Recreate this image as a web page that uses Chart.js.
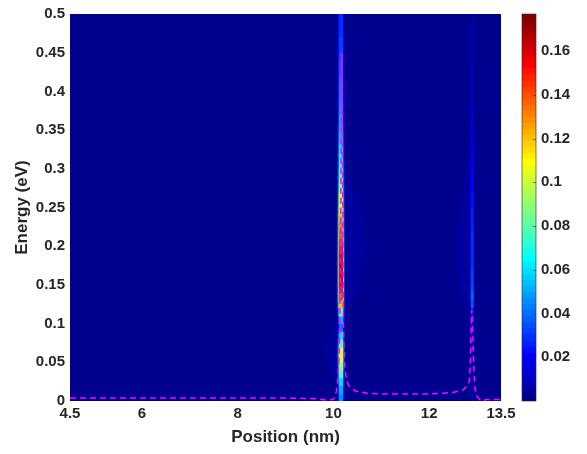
<!DOCTYPE html>
<html>
<head>
<meta charset="utf-8">
<script src="https://cdn.jsdelivr.net/npm/chart.js@4.4.1/dist/chart.umd.min.js"></script>
<style>
  body { margin: 0; background: #fff; }
  #wrap { position: relative; width: 587px; height: 454px; }
  #wrap canvas { position: absolute; left: 0; top: 0; }
</style>
</head>
<body>
<div id="wrap">
  <canvas id="map" width="587" height="454"></canvas>
  <canvas id="bar" width="587" height="454"></canvas>
</div>
<script>
/***** Data *****/
// Energy bins (eV), bin centres of the map rows
const energyBins = [
  0.005, 0.015, 0.025, 0.035, 0.045, 0.055, 0.065, 0.075, 0.085, 0.095,
  0.105, 0.115, 0.125, 0.135, 0.145, 0.155, 0.165, 0.175, 0.185, 0.195,
  0.205, 0.215, 0.225, 0.235, 0.245, 0.255, 0.265, 0.275, 0.285, 0.295,
  0.305, 0.315, 0.325, 0.335, 0.345, 0.355, 0.365, 0.375, 0.385, 0.395,
  0.405, 0.415, 0.425, 0.435, 0.445, 0.455, 0.465, 0.475, 0.485, 0.495,
];

// Bright state near 10.16 nm: centre column and its two side columns
const line1Core = [
  0.045, 0.05, 0.06, 0.075, 0.09, 0.105, 0.1, 0.08, 0.06, 0.04,
  0.055, 0.085, 0.12, 0.14, 0.152, 0.158, 0.155, 0.158, 0.155, 0.15,
  0.142, 0.136, 0.13, 0.124, 0.115, 0.105, 0.1, 0.09, 0.082, 0.076,
  0.07, 0.066, 0.062, 0.058, 0.055, 0.052, 0.05, 0.048, 0.046, 0.044,
  0.042, 0.04, 0.038, 0.036, 0.034, 0.032, 0.031, 0.03, 0.029, 0.028,
];
const line1Edge = [
  0.02, 0.022, 0.027, 0.034, 0.04, 0.047, 0.045, 0.036, 0.027, 0.018,
  0.025, 0.038, 0.054, 0.063, 0.068, 0.07, 0.068, 0.07, 0.068, 0.065,
  0.063, 0.061, 0.058, 0.056, 0.052, 0.047, 0.045, 0.04, 0.037, 0.034,
  0.032, 0.03, 0.028, 0.026, 0.025, 0.023, 0.022, 0.022, 0.021, 0.02,
  0.019, 0.018, 0.017, 0.016, 0.015, 0.014, 0.014, 0.013, 0.013, 0.012,
];

// Weaker state near 12.9 nm
const line2Core = [
  0.006, 0.006, 0.007, 0.007, 0.008, 0.008, 0.009, 0.01, 0.011, 0.012,
  0.014, 0.018, 0.034, 0.036, 0.034, 0.032, 0.031, 0.03, 0.03, 0.029,
  0.028, 0.028, 0.027, 0.026, 0.025, 0.024, 0.023, 0.022, 0.021, 0.02,
  0.019, 0.018, 0.017, 0.016, 0.015, 0.014, 0.013, 0.012, 0.011, 0.011,
  0.01, 0.009, 0.009, 0.008, 0.008, 0.007, 0.007, 0.006, 0.006, 0.005,
];

// Column extents (nm)
const line1CoreSpan = [10.12, 10.195];
const line1LeftSpan = [10.095, 10.12];
const line1RightSpan = [10.195, 10.22];
const line2CoreSpan = [12.875, 12.925];

// Faint halos around the states
const halo1RightBins = [
  0.105, 0.115, 0.125, 0.135, 0.145, 0.155, 0.165, 0.175, 0.185, 0.195,
  0.205, 0.215, 0.225, 0.235, 0.245, 0.255, 0.265, 0.275, 0.285, 0.295,
];
const halo1RightTo = [
  10.26, 10.32, 10.38, 10.43, 10.48, 10.52, 10.56, 10.59, 10.62, 10.64,
  10.65, 10.64, 10.62, 10.59, 10.55, 10.5, 10.44, 10.38, 10.31, 10.24,
];
const halo1LeftBins = [0.025, 0.035, 0.045, 0.055, 0.065, 0.075, 0.085, 0.095];
const halo1LeftFrom = [10.08, 10.0, 9.92, 9.86, 9.84, 9.87, 9.95, 10.06];
const halo2Bins = [
  0.125, 0.135, 0.145, 0.155, 0.165, 0.175, 0.185, 0.195, 0.205, 0.215, 0.225,
  0.235, 0.245, 0.255, 0.265, 0.275, 0.285, 0.295, 0.305, 0.315, 0.325, 0.335,
];
const halo2From = [
  12.8, 12.72, 12.66, 12.62, 12.59, 12.57, 12.56, 12.56, 12.57, 12.58, 12.6,
  12.62, 12.64, 12.67, 12.7, 12.72, 12.75, 12.78, 12.8, 12.82, 12.84, 12.86,
];
const haloLevel = 0.0045;
const baseLevel = 0.002;

// Dashed magenta profile
const profileX = [
  4.5, 6, 8, 9, 9.6, 9.9, 10.0, 10.06, 10.085, 10.115, 10.135, 10.15, 10.165, 10.175,
  10.19, 10.2, 10.21, 10.23, 10.27, 10.32, 10.45, 10.7, 11, 12, 12.5, 12.7, 12.8,
  12.84, 12.86, 12.875, 12.89, 12.91, 12.93, 12.95, 12.99, 13.08, 13.2, 13.5,
];
const profileY = [
  0.004, 0.004, 0.004, 0.004, 0.003, 0.001, 0.002, 0.012, 0.02, 0.05, 0.1, 0.2, 0.35, 0.45,
  0.35, 0.2, 0.1, 0.05, 0.028, 0.02, 0.013, 0.01, 0.009, 0.009, 0.011, 0.014, 0.02,
  0.026, 0.05, 0.09, 0.118, 0.09, 0.05, 0.02, 0.007, 0.0, 0.002, 0.002,
];

// Axes and colour scale
const xTicks = [4.5, 6, 8, 10, 12, 13.5];
const yTicks = [0, 0.05, 0.1, 0.15, 0.2, 0.25, 0.3, 0.35, 0.4, 0.45, 0.5];
const colorTicks = [0.02, 0.04, 0.06, 0.08, 0.1, 0.12, 0.14, 0.16];
const colorMax = 0.177;

/***** Helpers *****/
const FONT = "'Liberation Sans', Arial, Helvetica, sans-serif";
const INK = "#262626";

// MATLAB jet(64)
const jetRGB = (k) => {
  const c = (v) => Math.round(255 * Math.min(Math.max(v, 0), 1));
  return [
    c(Math.min((k - 23) / 16, (71 - k) / 16)),
    c(Math.min((k - 7) / 16, (55 - k) / 16)),
    c(Math.min((k + 9) / 16, (39 - k) / 16)),
  ];
};
const jet = (v) => {
  const k = Math.min(Math.max(Math.floor((v / colorMax) * 64), 0), 63);
  const [r, g, b] = jetRGB(k);
  return `rgb(${r},${g},${b})`;
};

const fmt = (v) => String(+v.toFixed(3));

// Builds a horizontal floating-bar dataset of heat cells
const cells = (bins, from, to, heat, order) => ({
  type: "bar",
  indexAxis: "y",
  grouped: false,
  order: order,
  barPercentage: 1,
  categoryPercentage: 1,
  borderWidth: 0,
  heat: heat,
  data: bins.map((e, i) => ({
    y: e,
    x: [Array.isArray(from) ? from[i] : from, Array.isArray(to) ? to[i] : to],
  })),
  backgroundColor: (ctx) => jet(ctx.dataset.heat[ctx.dataIndex]),
});

const fill = (arr, v) => arr.map(() => v);

/***** Main map *****/
const areaFill = {
  id: "areaFill",
  beforeDatasetsDraw(chart) {
    const { ctx, chartArea: a } = chart;
    ctx.save();
    ctx.fillStyle = jet(baseLevel);
    ctx.fillRect(a.left, a.top, a.width, a.height);
    ctx.restore();
  },
};

new Chart(document.querySelector("#map"), {
  data: {
    datasets: [
      {
        type: "line",
        order: 0,
        data: profileX.map((x, i) => ({ x: x, y: profileY[i] })),
        borderColor: "#ff00ff",
        borderWidth: 1.5,
        borderDash: [6, 4],
        pointRadius: 0,
        fill: false,
      },
      cells(energyBins, line1CoreSpan[0], line1CoreSpan[1], line1Core, 1),
      cells(energyBins, line1LeftSpan[0], line1LeftSpan[1], line1Edge, 2),
      cells(energyBins, line1RightSpan[0], line1RightSpan[1], line1Edge, 2),
      cells(energyBins, line2CoreSpan[0], line2CoreSpan[1], line2Core, 1),
      cells(halo1RightBins, 10.22, halo1RightTo, fill(halo1RightBins, haloLevel), 3),
      cells(halo1LeftBins, halo1LeftFrom, 10.095, fill(halo1LeftBins, haloLevel), 3),
      cells(halo2Bins, halo2From, 12.875, fill(halo2Bins, 0.0035), 3),
    ],
  },
  options: {
    responsive: false,
    animation: false,
    layout: { padding: { top: 11, right: 86, left: 0, bottom: 0 } },
    plugins: { legend: { display: false }, tooltip: { enabled: false } },
    scales: {
      x: {
        type: "linear",
        position: "bottom",
        min: 4.5,
        max: 13.5,
        offset: false,
        grid: { display: false, drawTicks: false, offset: false },
        border: { display: false },
        afterBuildTicks: (s) => { s.ticks = xTicks.map((v) => ({ value: v })); },
        afterFit: (s) => { s.height = 53; },
        ticks: {
          padding: 4,
          maxRotation: 0,
          autoSkip: false,
          color: INK,
          font: { family: FONT, size: 15, weight: "bold" },
          callback: fmt,
        },
        title: {
          display: true,
          text: "Position (nm)",
          color: INK,
          padding: { bottom: 6 },
          font: { family: FONT, size: 17, weight: "bold" },
        },
      },
      y: {
        type: "linear",
        position: "left",
        min: 0,
        max: 0.5,
        offset: false,
        grid: { display: false, drawTicks: false, offset: false },
        border: { display: false },
        afterBuildTicks: (s) => { s.ticks = yTicks.map((v) => ({ value: v })); },
        afterFit: (s) => { s.width = 70; },
        ticks: {
          padding: 5,
          autoSkip: false,
          color: INK,
          font: { family: FONT, size: 15, weight: "bold" },
          callback: fmt,
        },
        title: {
          display: true,
          text: "Energy (eV)",
          color: INK,
          padding: { top: 12 },
          font: { family: FONT, size: 17, weight: "bold" },
        },
      },
    },
  },
  plugins: [areaFill],
});

/***** Colour bar *****/
const colorRange = [0, colorMax];

const barFrame = {
  id: "barFrame",
  afterDatasetsDraw(chart) {
    const { ctx, chartArea: a } = chart;
    const ys = chart.scales.y;
    ctx.save();
    ctx.strokeStyle = INK;
    ctx.lineWidth = 0.6;
    ctx.strokeRect(a.left, a.top, a.width, a.height);
    for (const v of colorTicks) {
      const y = Math.round(ys.getPixelForValue(v)) + 0.5;
      ctx.beginPath();
      ctx.moveTo(a.right - 3, y);
      ctx.lineTo(a.right, y);
      ctx.stroke();
    }
    ctx.restore();
  },
};

new Chart(document.querySelector("#bar"), {
  type: "bar",
  data: {
    labels: [""],
    datasets: [
      {
        data: [colorRange],
        barPercentage: 1,
        categoryPercentage: 1,
        borderWidth: 0,
        backgroundColor: (ctx) => {
          const chart = ctx.chart;
          if (!chart.chartArea) return jet(0);
          const ys = chart.scales.y;
          const y0 = ys.getPixelForValue(colorRange[0]);
          const y1 = ys.getPixelForValue(colorRange[1]);
          const g = chart.ctx.createLinearGradient(0, y0, 0, y1);
          for (let k = 0; k < 64; k++) {
            const [r, gg, b] = jetRGB(k);
            const c = `rgb(${r},${gg},${b})`;
            g.addColorStop(k / 64, c);
            g.addColorStop((k + 1) / 64, c);
          }
          return g;
        },
      },
    ],
  },
  options: {
    responsive: false,
    animation: false,
    layout: { padding: { top: 11, right: 0, left: 522, bottom: 53 } },
    plugins: { legend: { display: false }, tooltip: { enabled: false } },
    scales: {
      x: { display: false },
      y: {
        position: "right",
        min: colorRange[0],
        max: colorRange[1],
        grid: { display: false, drawTicks: false },
        border: { display: false },
        afterBuildTicks: (s) => { s.ticks = colorTicks.map((v) => ({ value: v })); },
        afterFit: (s) => { s.width = 51; },
        ticks: {
          padding: 5,
          autoSkip: false,
          color: INK,
          font: { family: FONT, size: 15, weight: "bold" },
          callback: fmt,
        },
      },
    },
  },
  plugins: [barFrame],
});
</script>
</body>
</html>
